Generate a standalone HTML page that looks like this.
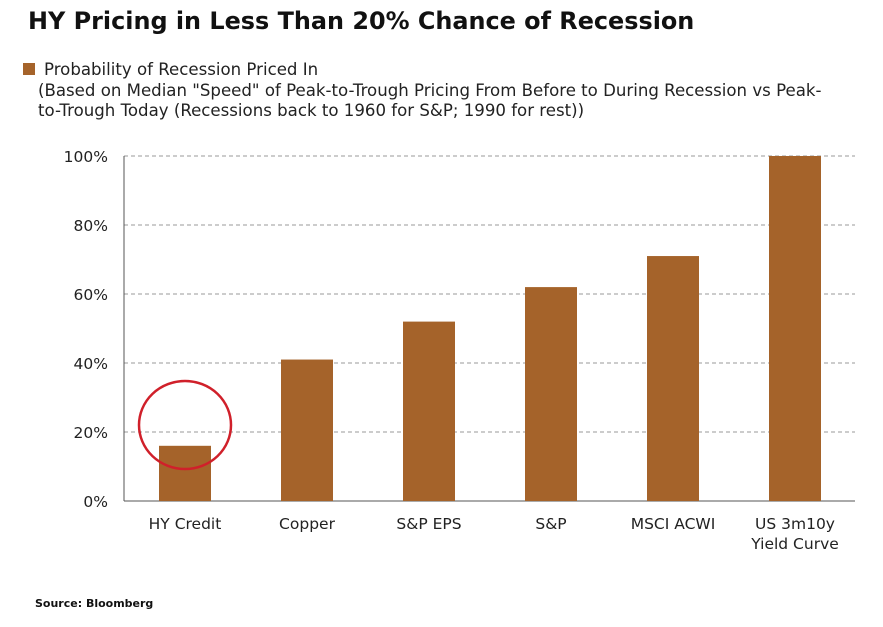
<!DOCTYPE html>
<html><head><meta charset="utf-8"><style>
body{margin:0;background:#fff;width:883px;height:623px;overflow:hidden;font-family:"DejaVu Sans","Liberation Sans",sans-serif;}
svg text{font-family:"DejaVu Sans","Liberation Sans",sans-serif;}
</style></head><body>
<svg id="chart" width="883" height="623">
<text x="28" y="29" font-size="23.9" font-weight="bold" fill="#111">HY Pricing in Less Than 20% Chance of Recession</text>
<rect x="23" y="63" width="12" height="12" fill="#a5632a"/>
<text x="44" y="75" font-size="16.6" fill="#222">Probability of Recession Priced In</text>
<text x="38" y="96" font-size="16.6" fill="#222">(Based on Median "Speed" of Peak-to-Trough Pricing From Before to During Recession vs Peak-</text>
<text x="38" y="116" font-size="16.6" fill="#222">to-Trough Today (Recessions back to 1960 for S&amp;P; 1990 for rest))</text>
<g id="plot"></g>
<ellipse cx="185" cy="425" rx="46" ry="44" fill="none" stroke="#d0202a" stroke-width="2.5"/>
<text x="35" y="607" font-size="11" font-weight="bold" font-family="Liberation Serif, serif" fill="#111">Source: Bloomberg</text>
</svg>
<script>
const categories=["HY Credit","Copper","S&P EPS","S&P","MSCI ACWI","US 3m10y|Yield Curve"];
const values=[16,41,52,62,71,100];
const ticks=[0,20,40,60,80,100];
const ns="http://www.w3.org/2000/svg";
const g=document.getElementById("plot");
const x0=124,x1=855,y0=501,y1=156,step=122,bw=52;
const y=v=>y0-(v/100)*(y0-y1);
const xc=i=>185+i*step;
function mk(t,a){const e=document.createElementNS(ns,t);for(const k in a)e.setAttribute(k,a[k]);g.appendChild(e);return e;}
ticks.forEach(t=>{
  if(t>0){const l=mk("line",{x1:x0,x2:x1,y1:y(t),y2:y(t),stroke:"#999","stroke-dasharray":"4,3"});
  
  }
  const tx=mk("text",{x:x0-16,y:y(t)+6,"font-size":15.5,"text-anchor":"end",fill:"#222"});tx.textContent=t+"%";
  
  
});
const ax=mk("line",{x1:x0,x2:x0,y1:y1,y2:y0,stroke:"#555"});


const bx=mk("line",{x1:x0,x2:x1,y1:y0,y2:y0,stroke:"#555"});


values.forEach((v,i)=>{
  const r=mk("rect",{x:xc(i)-bw/2,y:y(v),width:bw,height:y0-y(v),fill:"#a5632a"});
  
  
  categories[i].split("|").forEach((s,j)=>{
    const t=mk("text",{x:xc(i),y:529+j*20,"font-size":15.5,"text-anchor":"middle",fill:"#222"});t.textContent=s;
    
    
  });
});
</script>
</body></html>
